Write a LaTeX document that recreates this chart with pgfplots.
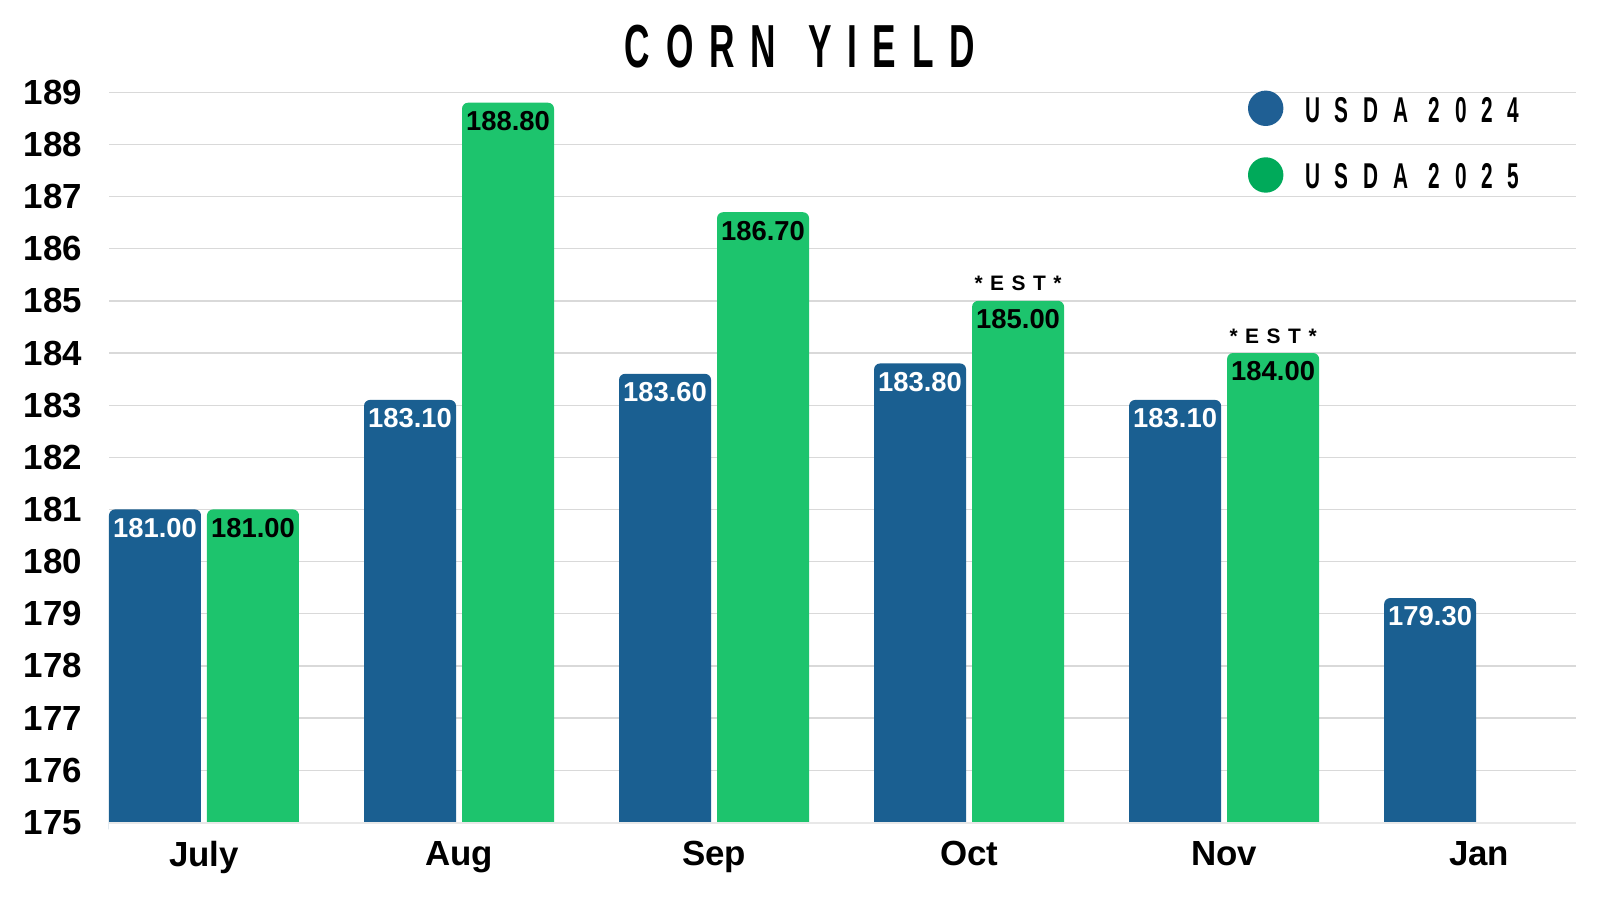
\documentclass[border=0pt]{standalone}
\usepackage{fontspec}
\setmainfont{Liberation Sans}
\newfontfamily\titlefont[FakeStretch=0.58,LetterSpace=26]{Liberation Sans Bold}
\newfontfamily\legfont[FakeStretch=0.58,LetterSpace=41]{Liberation Sans Bold}
\newfontfamily\estfont[LetterSpace=36]{Liberation Sans Bold}
\usepackage{pgfplots}
\usepackage{pgfplotstable}
\pgfplotsset{compat=1.18}
\definecolor{bluebar}{HTML}{1A5F91}
\definecolor{greenbar}{HTML}{1DC46D}
\definecolor{blueleg}{HTML}{1F5F94}
\definecolor{greenleg}{HTML}{00AA5A}
\definecolor{gridc}{HTML}{D9D9D9}

\pgfplotstableread{
x y lab
0 181.0 181.00
1 183.1 183.10
2 183.6 183.60
3 183.8 183.80
4 183.1 183.10
5 179.3 179.30
}\usdaA

\pgfplotstableread{
x y lab
0 181.0 181.00
1 188.8 188.80
2 186.7 186.70
3 185.0 185.00
4 184.0 184.00
}\usdaB

\begin{document}
\begin{tikzpicture}
\useasboundingbox (0,0) rectangle (1600bp,900bp);
\begin{axis}[
  at={(109bp,64.66bp)}, anchor=south west,
  scale only axis, width=1467bp, height=743.04bp,
  xmin=-0.3725, xmax=5.38,
  ymin=174.75, ymax=189,
  ytick={175,176,...,189},
  xtick={0,1,2,3,4,5},
  xticklabels={July,Aug,Sep,Oct,Nov,Jan},
  axis line style={draw=none},
  major tick length=0pt,
  ymajorgrids,
  major grid style={draw=gridc, line width=1.3bp},
  /pgf/number format/assume math mode=true,
  /pgf/number format/1000 sep={},
  yticklabel style={font=\fontsize{35}{35}\selectfont\bfseries, anchor=east, inner sep=0pt, xshift=-27bp},
  xticklabel style={font=\fontsize{35}{35}\selectfont\bfseries, anchor=north, inner sep=0pt, yshift=-6bp},
  clip=false,
]
\addplot[ybar, bar width=92bp, bar shift=-49bp, fill=bluebar, draw=none, rounded corners=6bp,
  nodes near coords, point meta=explicit symbolic,
  every node near coord/.append style={anchor=center, xshift=-49bp, yshift=-18.5bp, text=white, inner sep=0pt,
    font=\fontsize{27.5}{30}\selectfont\bfseries, rounded corners=0pt}]
  table[x=x, y=y, meta=lab]{\usdaA};
\addplot[ybar, bar width=92bp, bar shift=49bp, fill=greenbar, draw=none, rounded corners=6bp,
  nodes near coords, point meta=explicit symbolic,
  every node near coord/.append style={anchor=center, xshift=49bp, yshift=-18.5bp, text=black, inner sep=0pt,
    font=\fontsize{27.5}{30}\selectfont\bfseries, rounded corners=0pt}]
  table[x=x, y=y, meta=lab]{\usdaB};
\fill[white] (axis cs:-0.3725,174.7) rectangle (axis cs:5.38,174.99);
\draw[draw=gridc!60, line width=1.3bp] (axis cs:-0.3725,174.985) -- (axis cs:5.38,174.985);
\node[anchor=base, inner sep=0pt, xshift=49bp, yshift=10bp, font=\fontsize{21}{21}\estfont] at (axis cs:3,185) {*EST*};
\node[anchor=base, inner sep=0pt, xshift=49bp, yshift=10bp, font=\fontsize{21}{21}\estfont] at (axis cs:4,184) {*EST*};
\end{axis}
\node[anchor=base, inner sep=0pt, font=\fontsize{61}{61}\titlefont] at (800bp,832bp) {CORN\hspace{32bp}YIELD};
\fill[blueleg] (1265.7bp,791.7bp) circle (17.7bp);
\fill[greenleg] (1265.7bp,725bp) circle (17.7bp);
\node[anchor=base west, inner sep=0pt, font=\fontsize{36}{36}\legfont] at (1305bp,777.7bp) {USDA 2024};
\node[anchor=base west, inner sep=0pt, font=\fontsize{36}{36}\legfont] at (1305bp,711bp) {USDA 2025};
\end{tikzpicture}
\end{document}
